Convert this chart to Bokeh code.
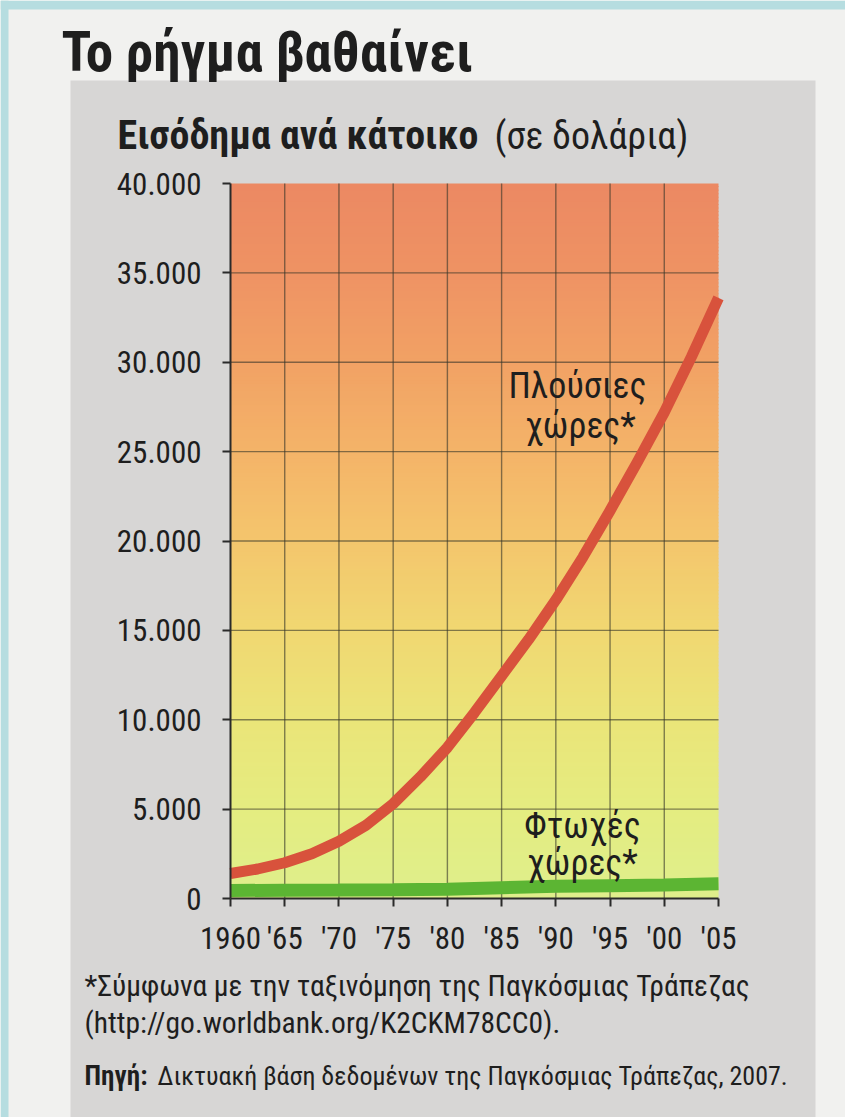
import numpy as np
from bokeh.plotting import figure
from bokeh.models import FixedTicker, Label, Range1d, LinearAxis
from bokeh.embed import file_html
from bokeh.resources import INLINE

# ---------------- data ----------------
rich_years = [1960, 1962.5, 1965, 1967.5, 1970, 1972.5, 1975, 1977.5, 1980, 1982.5,
              1985, 1987.5, 1990, 1992.5, 1995, 1997.5, 2000, 2002.5, 2005]
rich_income = [1400, 1650, 2000, 2500, 3200, 4100, 5300, 6800, 8450, 10400,
               12450, 14500, 16700, 19100, 21700, 24400, 27200, 30300, 33600]
poor_years = [1960, 1965, 1970, 1975, 1980, 1985, 1990, 1995, 2000, 2005]
poor_income = [450, 460, 470, 490, 520, 600, 680, 720, 760, 820]

x_ticks = [1960, 1965, 1970, 1975, 1980, 1985, 1990, 1995, 2000, 2005]
x_tick_labels = ["1960", "'65", "'70", "'75", "'80", "'85", "'90", "'95", "'00", "'05"]
y_ticks = [0, 5000, 10000, 15000, 20000, 25000, 30000, 35000, 40000]
y_tick_labels = ["0", "5.000", "10.000", "15.000", "20.000", "25.000", "30.000", "35.000", "40.000"]

title_text = "Το ρήγμα βαθαίνει"
subtitle_bold = "Εισόδημα ανά κάτοικο"
subtitle_normal = "(σε δολάρια)"
rich_label = ["Πλούσιες", "χώρες*"]
poor_label = ["Φτωχές", "χώρες*"]
note_1 = "*Σύμφωνα με την ταξινόμηση της Παγκόσμιας Τράπεζας"
note_2 = "(http://go.worldbank.org/K2CKM78CC0)."
source_bold = "Πηγή:"
source_text = "Δικτυακή βάση δεδομένων της Παγκόσμιας Τράπεζας, 2007."

# ---------------- layout / style ----------------
W, H = 845, 1117
FL, FR, FT, FB = 230, 718, 183, 898      # plot-area edges in page pixels
X_START, X_END = 1960, 2005
Y_START, Y_END = 0, 40000

FONT = "Roboto Condensed"
TXT = "#1e1e1e"
PAPER = "#f1f1ef"
PANEL = "#d7d6d5"
CYAN = "#b6dde0"


def dx(px):
    return X_START + (px - FL) * (X_END - X_START) / (FR - FL)


def dy(py):
    return Y_START + (FB - py) * (Y_END - Y_START) / (FB - FT)


p = figure(width=W, height=H, output_backend="svg", toolbar_location=None,
           x_range=Range1d(dx(0), dx(W)), y_range=Range1d(dy(H), dy(0)),
           x_axis_type=None, y_axis_type=None,
           min_border_left=0, min_border_right=0, min_border_top=0, min_border_bottom=0)
p.border_fill_color = PAPER
p.background_fill_color = PAPER
p.outline_line_color = None
p.xgrid.visible = False
p.ygrid.visible = False

# page decoration: grey panel and cyan scan edges
p.quad(left=[dx(70), dx(0), dx(0)], right=[dx(815), dx(8), dx(W)],
       top=[dy(80), dy(0), dy(0)], bottom=[dy(H), dy(H), dy(9)],
       fill_color=[PANEL, CYAN, CYAN], line_color=None)

# vertical colour gradient of the plotting area
stops_v = [0, 5000, 10000, 15000, 20000, 25000, 30000, 35000, 40000]
stops_c = ["#dfef8c", "#e5ed81", "#ebe579", "#f1d872", "#f4c66d", "#f4b469", "#f2a265", "#ef9364", "#ec8963"]


def hex2rgb(h):
    return np.array([int(h[i:i + 2], 16) for i in (1, 3, 5)], dtype=float)


rgb = np.array([hex2rgb(c) for c in stops_c])
edges = np.linspace(Y_START, Y_END, 201)
mids = (edges[:-1] + edges[1:]) / 2
cols = ["#%02x%02x%02x" % tuple(int(np.interp(m, stops_v, rgb[:, k])) for k in range(3)) for m in mids]
tops = np.minimum(edges[1:] + 60, Y_END)
p.quad(left=X_START, right=X_END, bottom=edges[:-1], top=tops, fill_color=cols, line_color=None)

# grid lines (inner ones only, as in the original)
gx = x_ticks[1:-1]
gy = y_ticks[1:-1]
p.segment(x0=gx, x1=gx, y0=Y_START, y1=Y_END, line_color="#35352a", line_alpha=0.6, line_width=1.4)
p.segment(x0=X_START, x1=X_END, y0=gy, y1=gy, line_color="#35352a", line_alpha=0.6, line_width=1.4)

# series
p.line(poor_years, poor_income, line_color="#5cb533", line_width=13, line_cap="butt")
p.line(rich_years, rich_income, line_color="#d8523c", line_width=11, line_cap="butt", line_join="round")

# axes placed at the data origin
xaxis = LinearAxis(fixed_location=Y_START, bounds=(X_START, X_END), ticker=FixedTicker(ticks=x_ticks),
                   major_label_overrides=dict(zip(x_ticks, x_tick_labels)), major_label_standoff=13)
yaxis = LinearAxis(fixed_location=X_START, bounds=(Y_START, Y_END), ticker=FixedTicker(ticks=y_ticks),
                   major_label_overrides=dict(zip(y_ticks, y_tick_labels)), major_label_standoff=21)
for ax in (xaxis, yaxis):
    ax.axis_line_color = "#2a2a2a"
    ax.axis_line_width = 2
    ax.major_tick_line_color = "#2a2a2a"
    ax.major_tick_line_width = 2
    ax.major_tick_out = 8
    ax.major_tick_in = 0
    ax.minor_tick_line_color = None
    ax.major_label_text_font = FONT
    ax.major_label_text_font_size = "31px"
    ax.major_label_text_color = TXT
p.add_layout(xaxis, "below")
p.add_layout(yaxis, "left")

# texts


def lab(x_px, y_px, text, size, style="normal", align="left", baseline="middle"):
    p.add_layout(Label(x=dx(x_px), y=dy(y_px), text=text, text_font=FONT, text_font_size=size,
                       text_font_style=style, text_color=TXT, text_align=align,
                       text_baseline=baseline))


lab(61, 51, title_text, "55px", "bold")
lab(117, 135, subtitle_bold, "40px", "bold")
lab(494, 135, subtitle_normal, "38px")
lab(577, 385, rich_label[0], "36px", align="center")
lab(580, 425, rich_label[1], "36px", align="center")
lab(582, 825, poor_label[0], "36px", align="center")
lab(582, 862, poor_label[1], "36px", align="center")
lab(84, 985, note_1, "29.5px")
lab(84, 1022, note_2, "29.5px")
lab(84, 1075, source_bold, "27px", "bold")
lab(157, 1075, source_text, "26px")

open("out.html", "w").write(file_html(p, INLINE))
